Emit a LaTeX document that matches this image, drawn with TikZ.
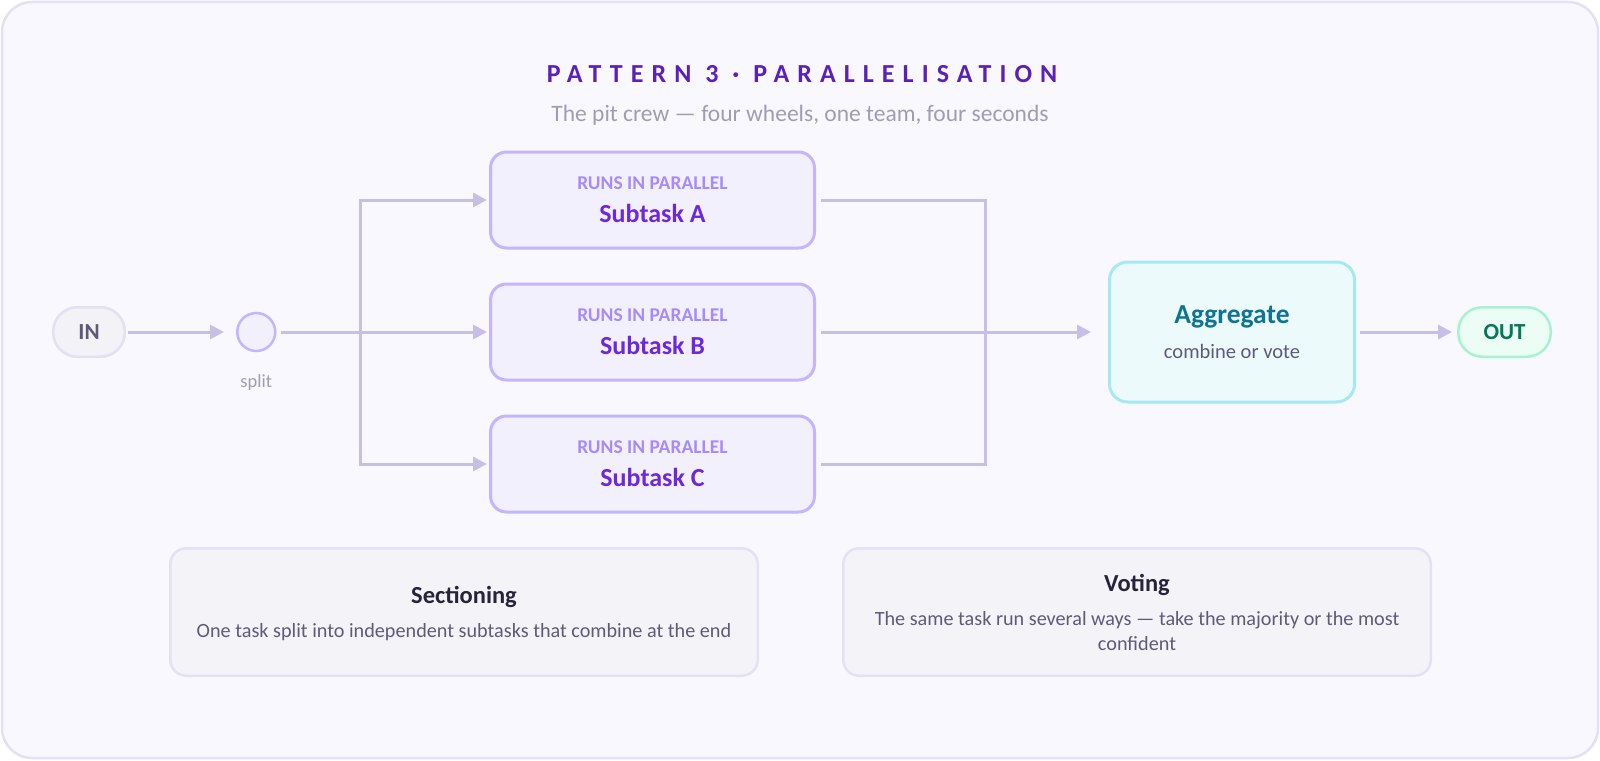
\documentclass[tikz,border=0pt]{standalone}
\usepackage{fontspec}
\setmainfont{Carlito}
\usepackage{xcolor}
\usetikzlibrary{arrows.meta,positioning}

\definecolor{pageFill}{HTML}{F9F8FE}
\definecolor{pageLine}{HTML}{E4E0F5}
\definecolor{headC}{HTML}{5B21B6}
\definecolor{mutedC}{HTML}{A09DB3}
\definecolor{linkC}{HTML}{C8BFE7}
\definecolor{pillFill}{HTML}{F3F2F7}
\definecolor{pillLine}{HTML}{E3E0F2}
\definecolor{pillC}{HTML}{5F5A77}
\definecolor{splitFill}{HTML}{F3F0FE}
\definecolor{taskFill}{HTML}{F3F0FD}
\definecolor{taskLine}{HTML}{C4B5FD}
\definecolor{runsC}{HTML}{A78BFA}
\definecolor{taskC}{HTML}{6D28D9}
\definecolor{aggFill}{HTML}{ECFAFC}
\definecolor{aggLine}{HTML}{A5E9F2}
\definecolor{aggC}{HTML}{0E7490}
\definecolor{outFill}{HTML}{ECFDF5}
\definecolor{outLine}{HTML}{A7F3D0}
\definecolor{outC}{HTML}{047857}
\definecolor{noteFill}{HTML}{F4F3F8}
\definecolor{noteLine}{HTML}{E4E1F5}
\definecolor{noteHead}{HTML}{27233A}
\definecolor{bodyC}{HTML}{5F5A78}

\newcommand{\subtasklabel}[1]{RUNS IN PARALLEL\\{\fontsize{26}{33}\selectfont\color{taskC}Subtask #1}}

\begin{document}
\begin{tikzpicture}[
  x=1pt, y=-1pt,
  node distance=33pt,
  box/.style={draw, align=center, inner sep=0pt},
  pill/.style={box, line width=2.5pt, rounded corners=24pt, minimum height=49.5pt,
               font=\fontsize{23}{26}\selectfont\bfseries},
  dot/.style={circle, draw=taskLine, fill=splitFill, line width=2.5pt, minimum size=38pt, inner sep=0pt},
  task/.style={box, line width=3pt, rounded corners=16pt, fill=taskFill, draw=taskLine,
               minimum width=324pt, minimum height=96pt, text=runsC,
               font=\fontsize{19.5}{33}\selectfont\bfseries},
  agg/.style={box, line width=3pt, rounded corners=18pt, fill=aggFill, draw=aggLine,
              minimum width=245pt, minimum height=140pt, text=bodyC,
              font=\fontsize{20.5}{35}\selectfont},
  note/.style={box, line width=2.5pt, rounded corners=16pt, fill=noteFill, draw=noteLine,
               minimum width=587.5pt, minimum height=127.5pt, text=bodyC, text depth=0pt,
               font=\fontsize{20.2}{25}\selectfont},
  link/.style={line width=3pt, draw=linkC},
  flow/.style={link, -{Triangle[length=14pt, width=14pt]}},
  lbl/.style={inner sep=0pt, text=mutedC},
]

%% ---- page -----------------------------------------------------------------
\useasboundingbox (0,0) rectangle (1600,760);
\draw[line width=2.5pt, draw=pageLine, fill=pageFill, rounded corners=30pt]
  (2,2) rectangle (1598,758);

%% ---- heading --------------------------------------------------------------
\node[lbl, anchor=base, text=headC,
      font=\fontsize{26}{30}\selectfont\bfseries\addfontfeature{LetterSpace=31}]
  (title) at (802,82) {PATTERN 3 · PARALLELISATION};
\node[lbl, anchor=base, font=\fontsize{23.5}{28}\selectfont]
  (subtitle) at (800,121) {The pit crew — four wheels, one team, four seconds};

%% ---- input and split ------------------------------------------------------
\node[pill, fill=pillFill, draw=pillLine, text=pillC, minimum width=71.5pt] (in) at (89,332) {IN};
\node[dot, right=110pt of in] (split) {};
\node[lbl, below=22pt of split, font=\fontsize{18.5}{22}\selectfont] (splitlbl) {split};

%% ---- the three subtasks ---------------------------------------------------
\node[task] (subB) at (652.5,332) {\subtasklabel{B}};
\node[task, above=of subB] (subA) {\subtasklabel{A}};
\node[task, below=of subB] (subC) {\subtasklabel{C}};

%% ---- aggregate and output -------------------------------------------------
\node[agg] (agg) at (1232,332)
  {{\fontsize{27.5}{35}\selectfont\bfseries\color{aggC}Aggregate}\\combine or vote};
\node[pill, fill=outFill, draw=outLine, text=outC, minimum width=92.5pt,
      right=101pt of agg] (out) {OUT};

%% ---- fan out / fan in -----------------------------------------------------
\coordinate (fork) at (360,332);
\coordinate (join) at (985,332);

\draw[flow, shorten <=2pt, shorten >=12pt] (in) -- (split);
\draw[flow, shorten <=4pt, shorten >=2pt] (split) -- (subB);
\draw[flow, shorten >=2pt] (fork) |- (subA.west);
\draw[flow, shorten >=2pt] (fork) |- (subC.west);

\draw[link, shorten <=5pt] (subA.east) -| (join);
\draw[link, shorten <=5pt] (subC.east) -| (join);
\draw[flow, shorten <=5pt, shorten >=17pt] (subB) -- (agg);
\draw[flow, shorten <=4pt, shorten >=5pt] (agg) -- (out);

%% ---- the two variants -----------------------------------------------------
\node[note] (sect) at (464,612)
  {{\fontsize{24.5}{25}\selectfont\bfseries\color{noteHead}Sectioning}\\[9pt]%
   One task split into independent subtasks that combine at the end};
\node[note, right=83pt of sect] (vote)
  {{\fontsize{24.5}{25}\selectfont\bfseries\color{noteHead}Voting}\\[9pt]%
   The same task run several ways — take the majority or the most\\confident};

\end{tikzpicture}
\end{document}
